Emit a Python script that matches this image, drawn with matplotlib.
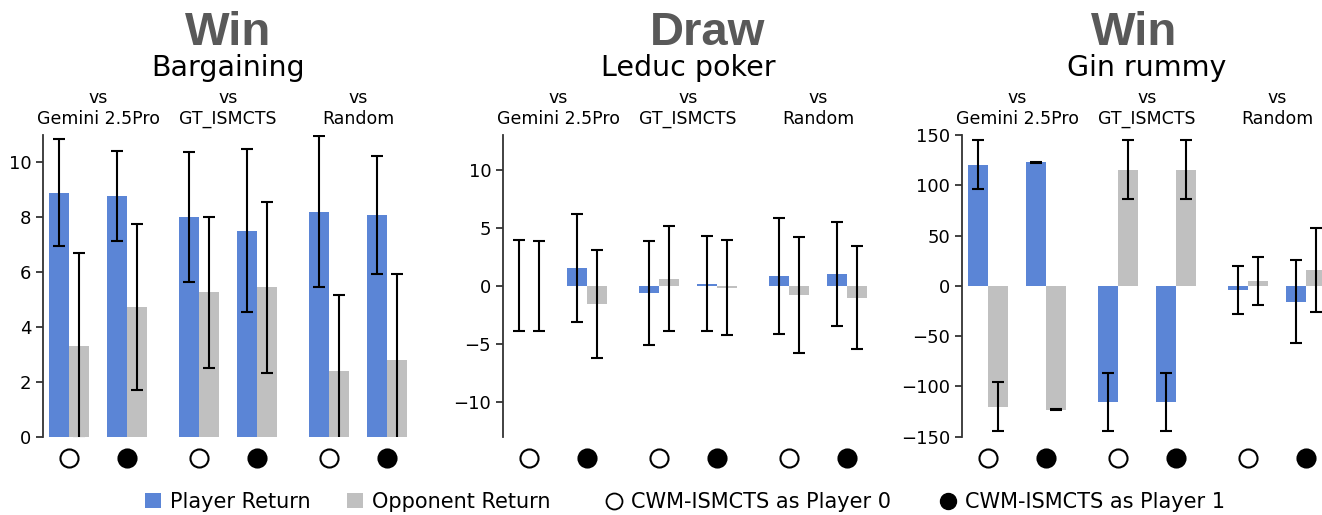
import numpy as np
import matplotlib.pyplot as plt
from matplotlib.lines import Line2D
from matplotlib.patches import Patch

# data: order is (Gemini P0, Gemini P1, GT_ISMCTS P0, GT_ISMCTS P1, Random P0, Random P1)
games = ['Bargaining', 'Leduc poker', 'Gin rummy']
outcomes = ['Win', 'Draw', 'Win']
opponents = ['vs\nGemini 2.5Pro', 'vs\nGT_ISMCTS', 'vs\nRandom']
seats = [0, 1, 0, 1, 0, 1]

bargaining_player = [8.9, 8.78, 8.01, 7.51, 8.2, 8.1]
bargaining_player_err = [1.95, 1.65, 2.38, 2.97, 2.75, 2.15]
bargaining_opp = [3.31, 4.73, 5.26, 5.44, 2.41, 2.81]
bargaining_opp_err = [3.4, 3.04, 2.75, 3.1, 2.75, 3.13]

leduc_player = [0.03, 1.55, -0.6, 0.2, 0.83, 1.03]
leduc_player_err = [3.88, 4.65, 4.5, 4.1, 5.0, 4.45]
leduc_opp = [-0.03, -1.55, 0.63, -0.17, -0.8, -1.03]
leduc_opp_err = [3.9, 4.65, 4.49, 4.1, 5.0, 4.45]

gin_player = [120.6, 122.9, -115.5, -115.5, -4.3, -15.9]
gin_player_err = [24.5, 0.5, 29.3, 29.3, 24.0, 41.4]
gin_opp = [-120.2, -123.2, 115.6, 115.6, 4.7, 15.6]
gin_opp_err = [24.5, 0.5, 29.3, 29.3, 24.0, 41.9]

player = [bargaining_player, leduc_player, gin_player]
player_err = [bargaining_player_err, leduc_player_err, gin_player_err]
opp = [bargaining_opp, leduc_opp, gin_opp]
opp_err = [bargaining_opp_err, leduc_opp_err, gin_opp_err]

ylims = [(0, 11), (-13, 13), (-150, 150)]
yticks = [np.arange(0, 11, 2), np.arange(-10, 11, 5), np.arange(-150, 151, 50)]

BLUE = '#5b85d6'
GRAY = '#c0c0c0'

# x positions: pairs 1 apart, groups 2.24 apart
x = np.array([0, 1, 2.24, 3.24, 4.48, 5.48])
group_centers = [0.5, 2.74, 4.98]
bw = 0.345

W, H = 1322, 515
fig = plt.figure(figsize=(W / 100, H / 100), dpi=100)

lefts = [43, 503, 962]
ax_w = 370
ax_top, ax_bottom = 135, 436.7
title_x = [228, 688, 1147]
outcome_x = [228, 708, 1134]

for i in range(3):
    ax = fig.add_axes([lefts[i] / W, 1 - ax_bottom / H, ax_w / W, (ax_bottom - ax_top) / H])
    ax.bar(x - bw / 2, player[i], bw, color=BLUE, zorder=2)
    ax.bar(x + bw / 2, opp[i], bw, color=GRAY, zorder=2)
    ax.errorbar(x - bw / 2, player[i], yerr=player_err[i], fmt='none', ecolor='black',
                elinewidth=1.5, capsize=4.5, capthick=1.5, zorder=3)
    ax.errorbar(x + bw / 2, opp[i], yerr=opp_err[i], fmt='none', ecolor='black',
                elinewidth=1.5, capsize=4.5, capthick=1.5, zorder=3)

    ax.set_xlim(-0.45, 5.93)
    ax.set_ylim(*ylims[i])
    ax.set_yticks(yticks[i])
    ax.set_xticks([])
    ax.tick_params(axis='y', labelsize=13, length=5, width=1.3, color='#333333')
    for s in ['top', 'right', 'bottom']:
        ax.spines[s].set_visible(False)
    ax.spines['left'].set_linewidth(1.3)
    ax.spines['left'].set_color('#333333')

    # seat markers under each pair
    for xi, s in zip(x, seats):
        ax.plot(xi, -0.071, 'o', transform=ax.get_xaxis_transform(), clip_on=False,
                markersize=13, markeredgewidth=1.5, markeredgecolor='black',
                markerfacecolor='black' if s == 1 else 'white')

    # opponent labels above the axes
    for gc, lab in zip(group_centers, opponents):
        ax.annotate(lab, xy=(gc, 1), xycoords=('data', 'axes fraction'),
                    xytext=(0, 5), textcoords='offset points',
                    ha='center', va='bottom', fontsize=12.5, linespacing=1.2)

    fig.text(title_x[i] / W, 1 - 76 / H, games[i], ha='center', va='baseline', fontsize=20.5)
    fig.text(outcome_x[i] / W, 1 - 45 / H, outcomes[i], ha='center', va='baseline',
             fontsize=34, fontweight='bold', color='#595959', family='Liberation Sans')

# legend, one entry at a time so the spacing follows the reference
handles = [
    Patch(facecolor=BLUE, label='Player Return'),
    Patch(facecolor=GRAY, label='Opponent Return'),
    Line2D([], [], marker='o', linestyle='none', markersize=11.5, markerfacecolor='white',
           markeredgecolor='black', markeredgewidth=1.3, label='CWM-ISMCTS as Player 0'),
    Line2D([], [], marker='o', linestyle='none', markersize=11.5, markerfacecolor='black',
           markeredgecolor='black', label='CWM-ISMCTS as Player 1'),
]
leg_x = [145, 347, 606, 940]
for h, lx in zip(handles, leg_x):
    leg = fig.legend(handles=[h], loc='center left', bbox_to_anchor=(lx / W, 1 - 502 / H),
                     frameon=False, fontsize=15, borderpad=0, borderaxespad=0,
                     handlelength=0.75, handleheight=0.75, handletextpad=0.45)

fig.savefig('out.png', dpi=100)
